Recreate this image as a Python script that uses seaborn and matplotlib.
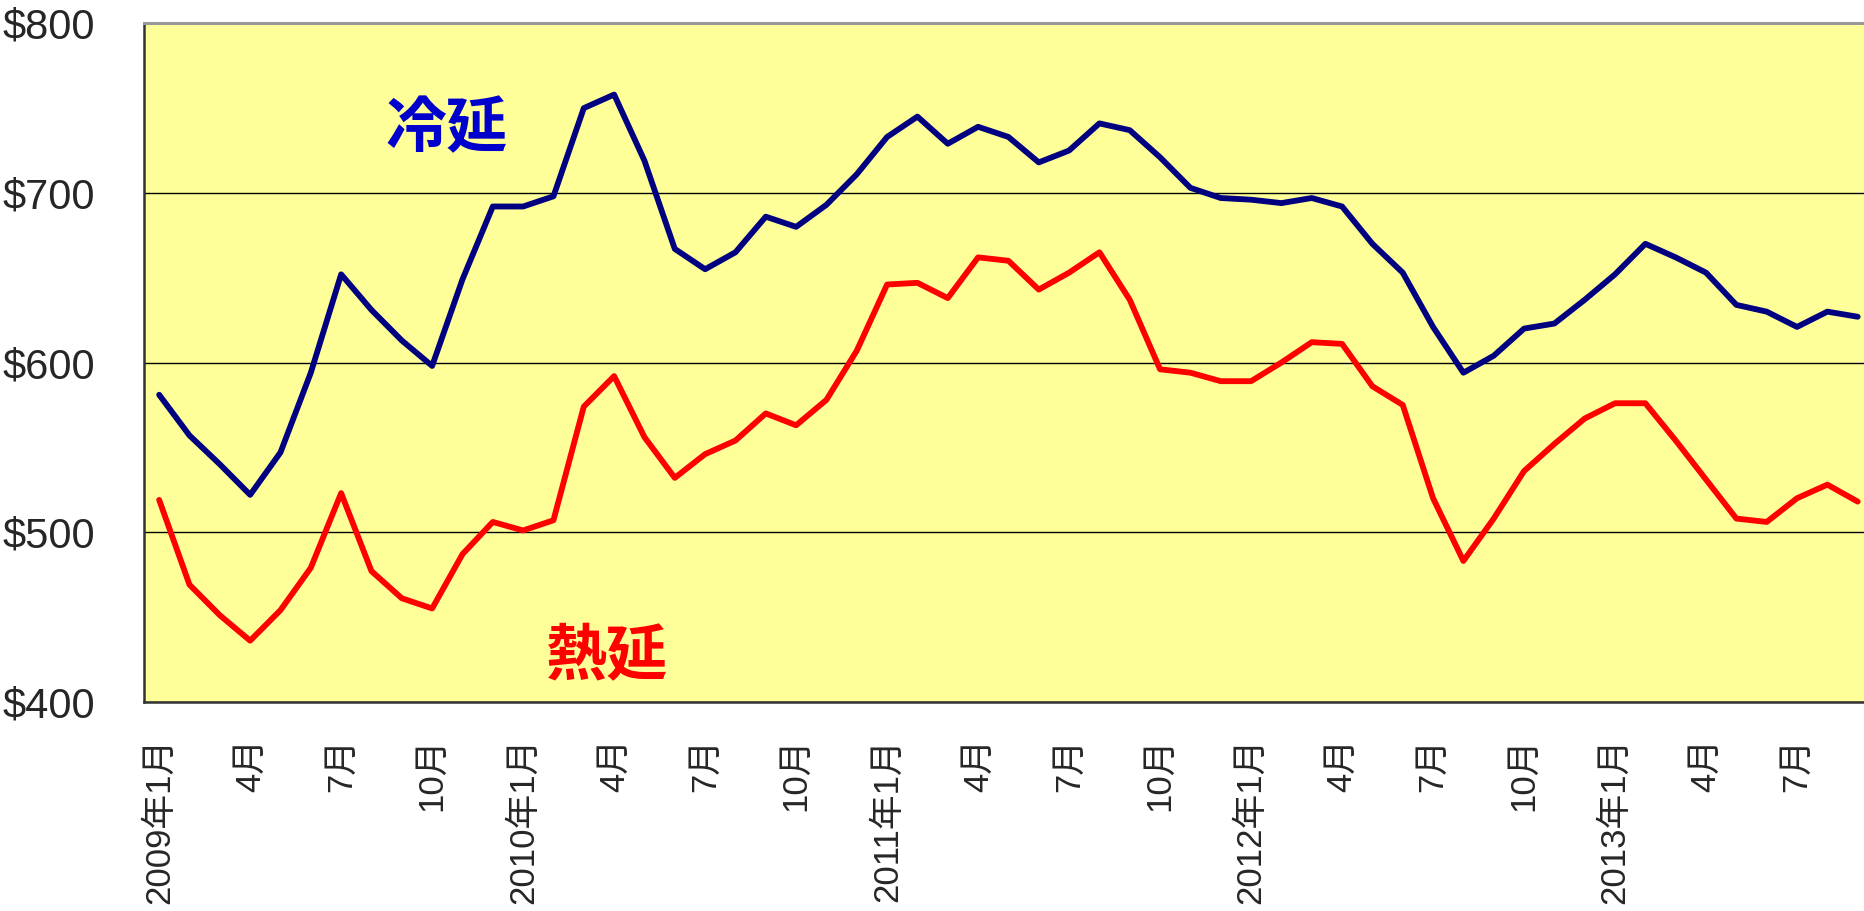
import pandas as pd
import seaborn as sns
import matplotlib.pyplot as plt
import numpy as np

# monthly prices, 2009-01 .. 2013-09
cold_rolled = [581, 557, 540, 522, 547, 594, 652, 631, 613, 598, 649, 692, 692, 698, 750, 758, 719, 667,
               655, 665, 686, 680, 693, 711, 733, 745, 729, 739, 733, 718, 725, 741, 737, 721, 703, 697, 696, 694, 697, 692,
               670, 653, 621, 594, 604, 620, 623, 637, 652, 670, 662, 653, 634, 630, 621, 630, 627]
hot_rolled = [519, 469, 451, 436, 454, 479, 523, 477, 461, 455, 487, 506, 501, 507, 574, 592, 556, 532,
              546, 554, 570, 563, 578, 607, 646, 647, 638, 662, 660, 643, 653, 665, 637, 596, 594, 589, 589, 600, 612, 611,
              586, 575, 520, 483, 508, 536, 552, 567, 576, 576, 554, 531, 508, 506, 520, 528, 518]
months = pd.period_range('2009-01', '2013-09', freq='M')
tick_labels = ['2009年1月', '4月', '7月', '10月', '2010年1月', '4月', '7月', '10月',
               '2011年1月', '4月', '7月', '10月', '2012年1月', '4月', '7月', '10月',
               '2013年1月', '4月', '7月']
y_ticks = [400, 500, 600, 700, 800]

data = pd.DataFrame({'idx': np.arange(len(months)), 'cold': cold_rolled, 'hot': hot_rolled})

sns.set_style('white')
plt.rcParams['font.family'] = ['Liberation Sans', 'Noto Sans CJK JP', 'DejaVu Sans']

fig = plt.figure(figsize=(18.64, 9.11), dpi=100)
ax = fig.add_axes([0.07725, 0.2297, 0.9275, 0.7447])
ax.set_facecolor('#FFFF99')

sns.lineplot(x='idx', y='cold', data=data, color='#000080', lw=4.2, ax=ax, sort=False)
sns.lineplot(x='idx', y='hot', data=data, color='#FF0000', lw=4.2, ax=ax, sort=False)

ax.set_xlim(-0.5, len(months) - 0.5)
ax.set_ylim(400, 800)

ax.set_xticks(np.arange(0, len(months), 3))
ax.set_xticklabels(tick_labels, rotation=90, fontsize=25)
ax.set_xticks(np.arange(2.5, len(months) - 1, 3), minor=True)
ax.tick_params(axis='x', which='major', length=0, pad=26)
ax.tick_params(axis='x', which='minor', direction='in', length=12, width=1.2, color='#333333')

ax.set_yticks(y_ticks)
ax.set_yticklabels([f'${v}' for v in y_ticks], fontsize=30)
ax.tick_params(axis='y', direction='in', length=14, width=1.2, color='#333333', pad=35)

ax.yaxis.grid(True, color='black', lw=1.0)
ax.set_axisbelow(True)

for side in ['left', 'bottom']:
    ax.spines[side].set_color('#333333')
    ax.spines[side].set_linewidth(1.8)
ax.spines['top'].set_color('#999999')
ax.spines['top'].set_linewidth(2.2)
ax.spines['right'].set_visible(False)

ax.set_xlabel('')
ax.set_ylabel('')

ax.text(9.46, 736, '冷延', color='#0000CC', fontsize=44, fontweight='bold', ha='center', va='center')
ax.text(14.73, 425, '熱延', color='#FF0000', fontsize=44, fontweight='bold', ha='center', va='center')

fig.savefig('out.png', dpi=100)
